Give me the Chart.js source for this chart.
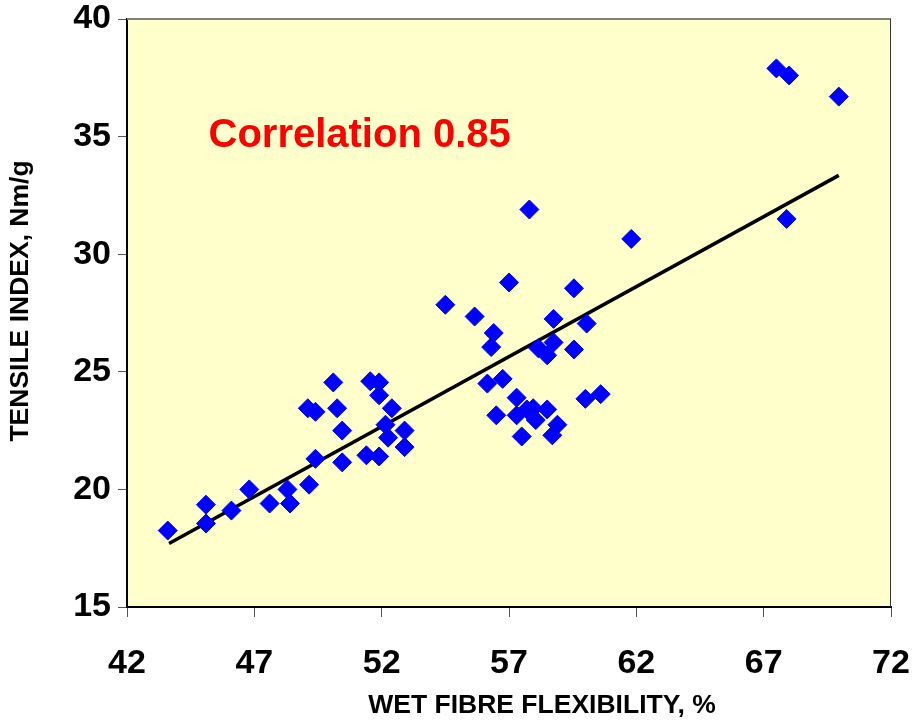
<!DOCTYPE html>
<html lang="en">
<head>
    <meta charset="UTF-8">
    <title>Tensile index vs wet fibre flexibility</title>
    <script src="https://cdn.jsdelivr.net/npm/chart.js"></script>
    <style>
        body { margin: 0; background: #fff; }
    </style>
</head>
<body>
    <canvas id="scatterChart" width="920" height="721"></canvas>
    <script>
        // Wet fibre flexibility (%) for each sample
        const flexibility = [
            43.6, 45.1, 45.1, 46.1, 46.8, 47.6, 48.3, 48.4, 49.15, 49.1,
            49.4, 49.4, 50.1, 50.25, 50.45, 50.45, 51.55, 51.9, 51.9, 51.4,
            51.9, 52.15, 52.25, 52.4, 52.9, 52.9, 54.5, 55.65, 56.4, 56.3,
            57.0, 57.8, 56.15, 56.75, 56.5, 57.3, 57.3, 57.7, 57.95, 58.05,
            58.5, 57.5, 58.7, 58.9, 58.15, 58.5, 58.75, 58.75, 59.55, 59.55,
            60.05, 60.0, 60.6, 61.8, 67.5, 68.0, 69.95, 67.9
        ];
        // Tensile index (Nm/g) for each sample
        const tensile = [
            18.25, 19.35, 18.55, 19.1, 20.0, 19.4, 20.0, 19.4, 20.2, 23.45,
            23.3, 21.3, 24.55, 23.45, 22.5, 21.15, 24.6, 24.55, 24.0, 21.45,
            21.4, 22.75, 22.2, 23.45, 22.5, 21.8, 27.85, 27.35, 26.65, 26.05,
            28.8, 31.9, 24.5, 24.7, 23.15, 23.9, 23.15, 23.4, 23.45, 22.95,
            23.4, 22.25, 22.3, 22.75, 26.0, 25.7, 26.25, 27.25, 28.55, 25.95,
            27.05, 23.85, 24.05, 30.65, 37.9, 37.6, 36.7, 31.5
        ];
        // Linear trend line end points
        const trendX = [43.65, 69.95];
        const trendY = [17.7, 33.35];

        const xTicks = [42, 47, 52, 57, 62, 67, 72];
        const yTicks = [15, 20, 25, 30, 35, 40];

        const FONT = '"Liberation Sans", Arial, sans-serif';

        // yellow plot background, top/right frame lines, titles and note
        const plotFrame = {
            id: 'plotFrame',
            beforeDraw(chart) {
                const { ctx, chartArea: a } = chart;
                ctx.save();
                ctx.fillStyle = '#FFFFCC';
                ctx.fillRect(a.left, a.top, a.right - a.left, a.bottom - a.top);
                ctx.restore();
            },
            afterDatasetsDraw(chart) {
                const { ctx, chartArea: a } = chart;
                ctx.save();
                ctx.strokeStyle = '#808080';
                ctx.lineWidth = 2;
                ctx.beginPath();
                ctx.moveTo(a.left, a.top);
                ctx.lineTo(a.right, a.top);
                ctx.stroke();
                ctx.strokeStyle = '#333';
                ctx.lineWidth = 1;
                ctx.beginPath();
                ctx.moveTo(a.right - 0.5, a.top);
                ctx.lineTo(a.right - 0.5, a.bottom);
                ctx.stroke();

                // correlation note
                const x = chart.scales.x.getPixelForValue(45.2);
                const y = chart.scales.y.getPixelForValue(34.55);
                ctx.fillStyle = '#FF0000';
                ctx.font = 'bold 40px ' + FONT;
                ctx.textBaseline = 'alphabetic';
                ctx.fillText('Correlation 0.85', x, y);

                // axis titles
                ctx.fillStyle = '#000';
                ctx.font = 'bold 26.5px ' + FONT;
                ctx.textAlign = 'center';
                ctx.textBaseline = 'middle';
                ctx.fillText('WET FIBRE FLEXIBILITY, %', 542, 706);
                ctx.translate(21, 301);
                ctx.rotate(-Math.PI / 2);
                ctx.fillText('TENSILE INDEX, Nm/g', 0, 0);
                ctx.restore();
            }
        };

        const data = {
            datasets: [
                {
                    type: 'line',
                    label: 'Trend',
                    data: trendX.map((x, i) => ({ x: x, y: trendY[i] })),
                    borderColor: '#000',
                    borderWidth: 3.5,
                    pointRadius: 0,
                    fill: false,
                    order: 2
                },
                {
                    type: 'scatter',
                    label: 'Samples',
                    data: flexibility.map((x, i) => ({ x: x, y: tensile[i] })),
                    backgroundColor: '#0000FF',
                    borderColor: '#0000FF',
                    borderWidth: 1,
                    pointStyle: 'rectRot',
                    pointRadius: 9.5,
                    order: 1
                }
            ]
        };

        const tickFont = { family: FONT, size: 34, weight: 'bold' };

        const config = {
            type: 'scatter',
            data: data,
            plugins: [plotFrame],
            options: {
                responsive: false,
                animation: false,
                layout: { padding: { top: 19, right: 29, left: 0, bottom: 0 } },
                plugins: {
                    legend: { display: false },
                    tooltip: { enabled: false }
                },
                scales: {
                    x: {
                        type: 'linear',
                        min: 42,
                        max: 72,
                        afterBuildTicks: s => { s.ticks = xTicks.map(v => ({ value: v })); },
                        afterFit: s => { s.height = 114; s.paddingLeft = 0; s.paddingRight = 0; },
                        ticks: { color: '#000', font: tickFont, padding: 26 },
                        grid: { drawOnChartArea: false, drawTicks: true, tickLength: 10, color: '#555', lineWidth: 1 },
                        border: { display: true, color: '#000', width: 2 }
                    },
                    y: {
                        type: 'linear',
                        min: 15,
                        max: 40,
                        afterBuildTicks: s => { s.ticks = yTicks.map(v => ({ value: v })); },
                        afterFit: s => { s.width = 127; s.paddingTop = 0; s.paddingBottom = 0; },
                        ticks: { color: '#000', font: tickFont, padding: 7 },
                        grid: { drawOnChartArea: false, drawTicks: true, tickLength: 9, color: '#555', lineWidth: 1 },
                        border: { display: true, color: '#000', width: 2 }
                    }
                }
            }
        };

        new Chart(document.getElementById('scatterChart'), config);
    </script>
</body>
</html>
